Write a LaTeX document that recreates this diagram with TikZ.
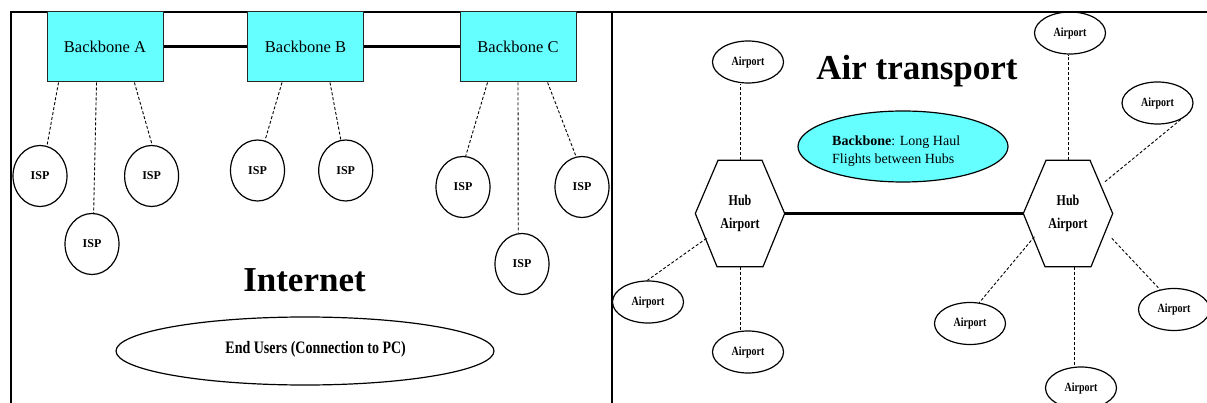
\documentclass[tikz,border=0pt]{standalone}
\usepackage{fontspec}
\setmainfont{Liberation Serif}
\newfontfamily\narrowserif[FakeStretch=0.8]{Liberation Serif}
\usetikzlibrary{calc,shapes.geometric}

\definecolor{bbcyan}{RGB}{102,255,255}

\tikzset{
  frameline/.style={line width=1.5pt},
  backbonebox/.style={draw=black!85, line width=1pt, fill=bbcyan,
    minimum width=116pt, minimum height=70pt, inner sep=0pt,
    font=\fontsize{16.5}{19}\selectfont},
  trunk/.style={line width=3pt},
  feeder/.style={line width=0.9pt, dash pattern=on 3pt off 2pt},
  ispnode/.style={draw, ellipse, line width=1.2pt, minimum width=54pt,
    minimum height=61pt, inner sep=0pt, font=\fontsize{12}{14}\selectfont\bfseries},
  airportnode/.style={draw, ellipse, line width=1.2pt, minimum width=71pt,
    minimum height=42pt, inner sep=0pt,
    font=\narrowserif\fontsize{12.5}{15}\selectfont\bfseries},
  hubnode/.style={minimum width=89pt, minimum height=106pt, inner sep=0pt,
    align=center, font=\narrowserif\fontsize{15}{22.7}\selectfont\bfseries},
  hexline/.style={line width=1.2pt},
  headline/.style={font=\fontsize{35}{40}\selectfont\bfseries, inner sep=0pt, anchor=base},
}

\begin{document}
\begin{tikzpicture}[x=1pt,y=-1pt]
\useasboundingbox (0,0) rectangle (1207,403);

% panel frame
\draw[frameline] (11,403) -- (11,12) -- (1207,12);
\draw[frameline] (612,12) -- (612,403);

% ---------------- Internet ----------------
\node[backbonebox] (bbA) at (105,47) {Backbone A};
\node[backbonebox] (bbB) at (305.5,47) {Backbone B};
\node[backbonebox] (bbC) at (518,47) {Backbone C};
\draw[trunk] (bbA.east) -- (bbB.west);
\draw[trunk] (bbB.east) -- (bbC.west);

\node[ispnode] (ispA1) at (40,176) {ISP};
\node[ispnode] (ispA2) at (92,244) {ISP};
\node[ispnode] (ispA3) at (151.6,176) {ISP};
\node[ispnode] (ispB1) at (257.5,170.5) {ISP};
\node[ispnode] (ispB2) at (345.7,170.5) {ISP};
\node[ispnode] (ispC1) at (463,187) {ISP};
\node[ispnode] (ispC2) at (522,264) {ISP};
\node[ispnode] (ispC3) at (582,187) {ISP};

\draw[feeder] ($(bbA.south)+(-46.5,0)$) -- (ispA1.77);
\draw[feeder] ($(bbA.south)+(-8.5,0)$) -- (ispA2.87);
\draw[feeder] ($(bbA.south)+(29.4,0)$) -- (ispA3.89);
\draw[feeder] ($(bbB.south)+(-23.5,0)$) -- (ispB1.76);
\draw[feeder] ($(bbB.south)+(24.5,0)$) -- (ispB2.99);
\draw[feeder] ($(bbC.south)+(-30.5,0)$) -- (ispC1.85);
\draw[feeder] (bbC.south) -- (ispC2.97);
\draw[feeder] ($(bbC.south)+(29.6,0)$) -- (ispC3.101);

\node[headline] (inet) at (304.5,291.7) {Internet};
\node[draw, ellipse, line width=1.2pt, minimum width=378pt, minimum height=68pt,
  inner sep=0pt] (users) at (305,351) {};
\node[inner sep=0pt, font=\narrowserif\fontsize{17.5}{20}\selectfont\bfseries]
  (userstxt) at (315.7,349.5) {End Users (Connection to PC)};

% ---------------- Air transport ----------------
\node[headline] (air) at (917,80) {Air transport};
\node[draw, ellipse, fill=bbcyan, line width=1.2pt, minimum width=210pt,
  minimum height=71pt, inner sep=0pt] (bbell) at (903,146.5) {};
\node[anchor=west, inner sep=0pt, align=left, font=\fontsize{14}{18.3}\selectfont]
  (bbtxt) at (832,151) {\textbf{Backbone}: Long Haul\\Flights between Hubs};

\node[hubnode] (hubL) at (740,213.5) {Hub\\Airport};
\node[hubnode] (hubR) at (1068,213.5) {Hub\\Airport};
\foreach \h in {hubL,hubR}
  \draw[hexline] (\h.west) -- ($(\h.north)+(-22,0)$) -- ($(\h.north)+(22,0)$)
    -- (\h.east) -- ($(\h.south)+(23,0)$) -- ($(\h.south)+(-23,0)$) -- cycle;
\draw[trunk] (hubL.east) -- (hubR.west);

\node[airportnode] (apNL) at (748,62) {Airport};
\node[airportnode] (apNR) at (1070,33) {Airport};
\node[airportnode] (apER) at (1157.5,103) {Airport};
\node[airportnode] (apWL) at (648,302) {Airport};
\node[airportnode] (apSL) at (748,352) {Airport};
\node[airportnode] (apSWR) at (970,323.5) {Airport};
\node[airportnode] (apSR) at (1081,388) {Airport};
\node[airportnode] (apSER) at (1174,309.5) {Airport};

\coordinate (hubRfoot) at ($(hubR.south)+(6,0)$);
\draw[feeder] (hubL.north) -- (hubL.north |- apNL.south);
\draw[feeder] (hubR.north) -- (hubR.north |- apNR.south);
\draw[feeder] ($(hubR.center)+(37,-31.8)$) -- (apER.-35);
\draw[feeder] ($(hubL.center)+(-33.5,24.8)$) -- (apWL.92);
\draw[feeder] (hubL.south) -- (hubL.south |- apSL.north);
\draw[feeder] ($(hubR.center)+(-33.6,23.2)$) -- (apSWR.66);
\draw[feeder] (hubRfoot) -- (hubRfoot |- apSR.north);
\draw[feeder] ($(hubR.center)+(43.8,24.8)$) -- (apSER.125);
\end{tikzpicture}
\end{document}
